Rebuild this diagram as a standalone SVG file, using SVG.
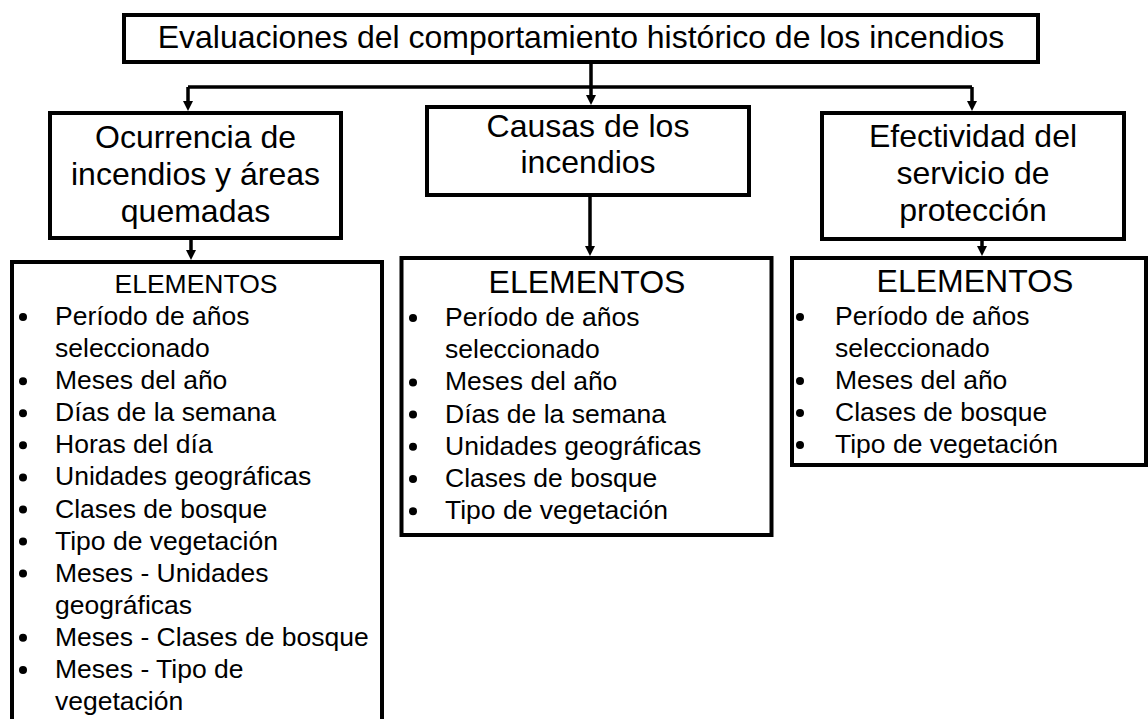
<svg xmlns="http://www.w3.org/2000/svg" width="1148" height="719" viewBox="0 0 1148 719">
<defs>
<style>
.box{fill:#fff;stroke:#000;stroke-width:4}
.t{font-family:"Liberation Sans",Arial,sans-serif;fill:#000}
.h{font-size:32px;text-anchor:middle}
.li{font-size:26.5px}
.conn{fill:none;stroke:#000;stroke-width:3.5}
</style>
<marker id="arr" markerUnits="userSpaceOnUse" markerWidth="10" markerHeight="10" refX="0" refY="5" orient="auto">
<path d="M0,0 L10,5 L0,10 z" fill="#000"/>
</marker>
</defs>
<rect width="1148" height="719" fill="#fff"/>
<g id="connectors">
<path class="conn" d="M591,62 V87 M188,87 H972"/>
<path class="conn" d="M188,87 V101" marker-end="url(#arr)"/>
<path class="conn" d="M591,87 V95" marker-end="url(#arr)"/>
<path class="conn" d="M972,87 V101" marker-end="url(#arr)"/>
<path class="conn" d="M191,238 V250" marker-end="url(#arr)"/>
<path class="conn" d="M590,195 V246" marker-end="url(#arr)"/>
<path class="conn" d="M982,239 V246" marker-end="url(#arr)"/>
</g>
<g id="top">
<rect class="box" x="124" y="15" width="914" height="47"/>
<text class="t h" x="581" y="48">Evaluaciones del comportamiento histórico de los incendios</text>
</g>
<g id="ocurrencia">
<rect class="box" x="50" y="113" width="291" height="125"/>
<text class="t h" x="195.5" y="148">Ocurrencia de</text>
<text class="t h" x="195.5" y="185">incendios y áreas</text>
<text class="t h" x="195.5" y="222">quemadas</text>
</g>
<g id="causas">
<rect class="box" x="427" y="107" width="322" height="88"/>
<text class="t h" x="588" y="137">Causas de los</text>
<text class="t h" x="588" y="173">incendios</text>
</g>
<g id="efectividad">
<rect class="box" x="822" y="113" width="302" height="126"/>
<text class="t h" x="973" y="147">Efectividad del</text>
<text class="t h" x="973" y="184">servicio de</text>
<text class="t h" x="973" y="221">protección</text>
</g>
<g id="elementos-ocurrencia">
<rect class="box" x="12" y="262" width="370" height="470"/>
<text class="t li" x="196" y="293" text-anchor="middle">ELEMENTOS</text>
<g fill="#000">
<circle cx="23" cy="317" r="4"/><circle cx="23" cy="381.2" r="4"/><circle cx="23" cy="413.2" r="4"/><circle cx="23" cy="445.3" r="4"/><circle cx="23" cy="477.4" r="4"/><circle cx="23" cy="509.5" r="4"/><circle cx="23" cy="541.6" r="4"/><circle cx="23" cy="573.6" r="4"/><circle cx="23" cy="637.8" r="4"/><circle cx="23" cy="669.9" r="4"/>
</g>
<text class="t li" x="55" y="325">Período de años</text>
<text class="t li" x="55" y="357.1">seleccionado</text>
<text class="t li" x="55" y="389.2">Meses del año</text>
<text class="t li" x="55" y="421.2">Días de la semana</text>
<text class="t li" x="55" y="453.3">Horas del día</text>
<text class="t li" x="55" y="485.4">Unidades geográficas</text>
<text class="t li" x="55" y="517.5">Clases de bosque</text>
<text class="t li" x="55" y="549.6">Tipo de vegetación</text>
<text class="t li" x="55" y="581.6">Meses - Unidades</text>
<text class="t li" x="55" y="613.7">geográficas</text>
<text class="t li" x="55" y="645.8">Meses - Clases de bosque</text>
<text class="t li" x="55" y="677.9">Meses - Tipo de</text>
<text class="t li" x="55" y="710">vegetación</text>
</g>
<g id="elementos-causas">
<rect class="box" x="401.5" y="258" width="370" height="277"/>
<text class="t h" x="587" y="293">ELEMENTOS</text>
<g fill="#000">
<circle cx="413" cy="318" r="4"/><circle cx="413" cy="382.4" r="4"/><circle cx="413" cy="414.6" r="4"/><circle cx="413" cy="446.8" r="4"/><circle cx="413" cy="479" r="4"/><circle cx="413" cy="511.2" r="4"/>
</g>
<text class="t li" x="445" y="326">Período de años</text>
<text class="t li" x="445" y="358.2">seleccionado</text>
<text class="t li" x="445" y="390.4">Meses del año</text>
<text class="t li" x="445" y="422.6">Días de la semana</text>
<text class="t li" x="445" y="454.8">Unidades geográficas</text>
<text class="t li" x="445" y="487">Clases de bosque</text>
<text class="t li" x="445" y="519.2">Tipo de vegetación</text>
</g>
<g id="elementos-efectividad">
<rect class="box" x="792" y="258" width="354" height="207"/>
<text class="t h" x="975" y="292">ELEMENTOS</text>
<g fill="#000">
<circle cx="800" cy="317" r="4"/><circle cx="800" cy="381" r="4"/><circle cx="800" cy="413" r="4"/><circle cx="800" cy="445" r="4"/>
</g>
<text class="t li" x="835" y="325">Período de años</text>
<text class="t li" x="835" y="357">seleccionado</text>
<text class="t li" x="835" y="389">Meses del año</text>
<text class="t li" x="835" y="421">Clases de bosque</text>
<text class="t li" x="835" y="453">Tipo de vegetación</text>
</g>
</svg>
